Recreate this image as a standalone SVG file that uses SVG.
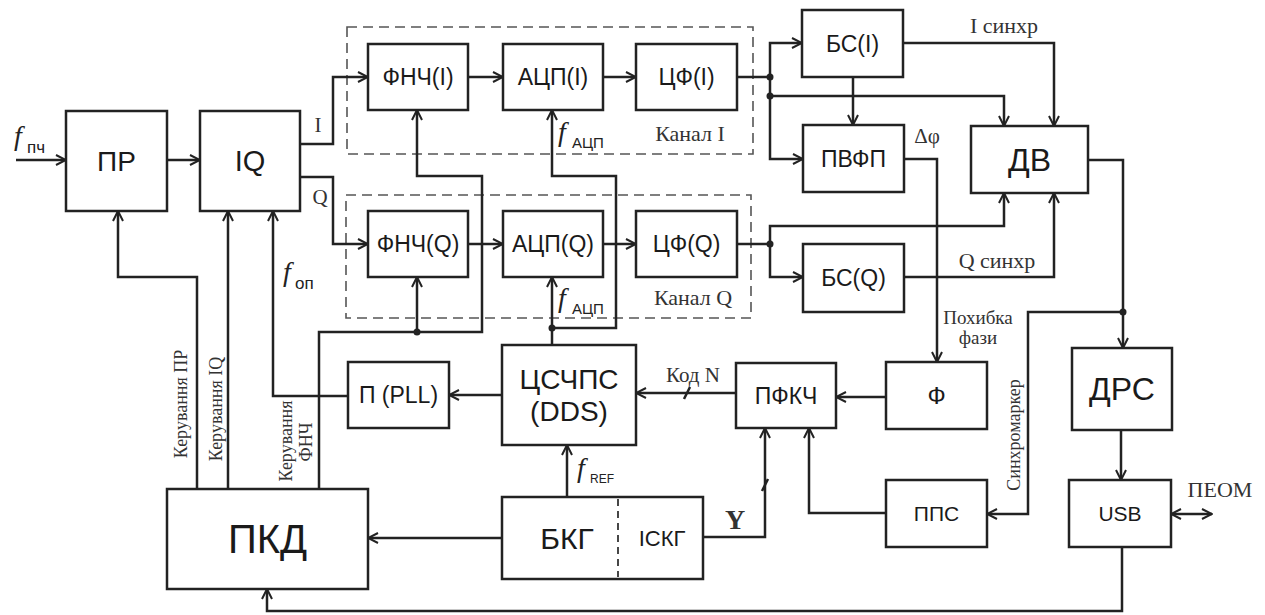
<svg xmlns="http://www.w3.org/2000/svg" width="1265" height="615" viewBox="0 0 1265 615">
<style>
.b{fill:#fff;stroke:#222;stroke-width:2.5}
.c{fill:none;stroke:#222;stroke-width:2.5}
.a{marker-end:url(#ar)}
.d{fill:none;stroke:#555;stroke-width:1.6;stroke-dasharray:10 6}
.t{font-family:"Liberation Sans",Arial,sans-serif;fill:#1a1a1a;text-anchor:middle}
.s{font-family:"Liberation Serif","Times New Roman",serif;fill:#333}
.m{text-anchor:middle}
.f{font-family:"Liberation Serif","Times New Roman",serif;font-style:italic;fill:#222}
.u{font-family:"Liberation Sans",Arial,sans-serif;fill:#222}
.j{fill:#222}
</style>
<defs>
<marker id="ar" viewBox="0 0 12 12" refX="11" refY="6" markerWidth="12" markerHeight="12" markerUnits="userSpaceOnUse" orient="auto-start-reverse">
<path d="M1,1 L11,6 L1,11" fill="none" stroke="#222" stroke-width="2"/>
</marker>
</defs>
<rect width="1265" height="615" fill="#fff"/>

<g id="channels">
<rect class="d" x="347" y="27" width="406" height="127"/>
<rect class="d" x="346" y="195" width="405" height="123"/>
<text class="s m" x="690" y="141" font-size="22">Канал I</text>
<text class="s m" x="693" y="305" font-size="22">Канал Q</text>
</g>

<g id="connectors">
<path class="c a" d="M16,160 H66"/>
<path class="c a" d="M167,160 H200"/>
<path class="c a" d="M300,144 H333 V77 H368"/>
<path class="c a" d="M300,177 H333 V244 H368"/>
<path class="c a" d="M468,77 H503"/>
<path class="c a" d="M603,77 H636"/>
<path class="c a" d="M468,244 H503"/>
<path class="c a" d="M603,244 H636"/>
<path class="c" d="M737,77 H770"/>
<path class="c a" d="M770,77 V43 H802"/>
<path class="c a" d="M770,77 V159 H803"/>
<path class="c a" d="M770,96 H1004 V126"/>
<path class="c a" d="M853,77 V125"/>
<path class="c a" d="M903,43 H1054 V126"/>
<path class="c" d="M737,244 H770"/>
<path class="c a" d="M770,244 V226 H1004 V193"/>
<path class="c a" d="M770,244 V277 H803"/>
<path class="c a" d="M904,277 H1054 V193"/>
<path class="c a" d="M904,159 H937 V362"/>
<path class="c a" d="M1088,160 H1123 V348"/>
<path class="c a" d="M1123,312 H1028 V514 H987"/>
<path class="c a" d="M1121,430 V480"/>
<path class="c a" d="M1171,514 H1212" marker-start="url(#ar)"/>
<path class="c a" d="M1122,547 V611 H267 V589"/>
<path class="c a" d="M886,397 H836"/>
<path class="c a" d="M736,393 H636"/>
<path class="c" d="M684,399 L690,387" stroke-width="2"/>
<path class="c a" d="M886,513 H809 V428"/>
<path class="c a" d="M703,537 H765 V428"/>
<path class="c" d="M762,491 L768,479" stroke-width="2"/>
<path class="c a" d="M567,497 V445"/>
<path class="c a" d="M502,538 H368"/>
<path class="c a" d="M502,395 H449"/>
<path class="c a" d="M348,396 H273 V211"/>
<path class="c a" d="M228,489 V211"/>
<path class="c a" d="M197,489 V277 H118 V211"/>
<path class="c a" d="M319,489 V332 H482 V176 H417 V110"/>
<path class="c a" d="M417,332 V277"/>
<path class="c" d="M552,345 V328"/>
<path class="c a" d="M552,328 V277"/>
<path class="c a" d="M552,328 H616 V176 H552 V110"/>
<circle class="j" cx="770" cy="77" r="3.5"/>
<circle class="j" cx="770" cy="96" r="3.5"/>
<circle class="j" cx="770" cy="244" r="3.5"/>
<circle class="j" cx="417" cy="332" r="3.5"/>
<circle class="j" cx="552" cy="328" r="3.5"/>
<circle class="j" cx="1123" cy="312" r="3.5"/>
</g>

<g id="labels">
<text class="f" x="14" y="145" font-size="28">f</text>
<text class="u" x="27" y="153" font-size="17">пч</text>
<text class="f" x="283" y="281" font-size="28">f</text>
<text class="u" x="295" y="289" font-size="17">оп</text>
<text class="f" x="558" y="141" font-size="28">f</text>
<text class="u" x="572" y="148" font-size="15">АЦП</text>
<text class="f" x="558" y="307" font-size="28">f</text>
<text class="u" x="572" y="314" font-size="15">АЦП</text>
<text class="f" x="577" y="477" font-size="28">f</text>
<text class="u" x="590" y="483" font-size="12">REF</text>
<text class="s m" x="318" y="132" font-size="21">I</text>
<text class="s m" x="320" y="204" font-size="21">Q</text>
<text class="s m" x="1004" y="33" font-size="22">I синхр</text>
<text class="s m" x="997" y="268" font-size="22">Q синхр</text>
<text class="s m" x="927" y="143" font-size="21">Δφ</text>
<text class="s m" x="978" y="324" font-size="19">Похибка</text>
<text class="s m" x="978" y="344" font-size="19">фази</text>
<text class="s m" font-size="18" transform="translate(1020,435) rotate(-90)">Синхромаркер</text>
<text class="s m" font-size="18" transform="translate(187,404) rotate(-90)">Керування ПР</text>
<text class="s m" font-size="18" transform="translate(222,409) rotate(-90)">Керування IQ</text>
<text class="s m" font-size="18" transform="translate(292,441) rotate(-90)">Керування</text>
<text class="s m" font-size="18" transform="translate(312,442) rotate(-90)">ФНЧ</text>
<text class="s m" x="693" y="382" font-size="21">Код N</text>
<text class="s m" x="735" y="529" font-size="28" font-weight="bold">Y</text>
<text class="s m" x="1220" y="497" font-size="22">ПЕОМ</text>
</g>

<g id="PR"><rect class="b" x="66" y="111" width="101" height="100"/><text class="t" x="116.5" y="171" font-size="28">ПР</text></g>
<g id="IQ"><rect class="b" x="200" y="111" width="100" height="100"/><text class="t" x="250" y="171" font-size="29">IQ</text></g>
<g id="FNCH_I"><rect class="b" x="368" y="44" width="100" height="66"/><text class="t" x="418" y="85" font-size="23">ФНЧ(I)</text></g>
<g id="ADC_I"><rect class="b" x="503" y="44" width="100" height="66"/><text class="t" x="553" y="85" font-size="23">АЦП(I)</text></g>
<g id="CF_I"><rect class="b" x="636" y="44" width="101" height="66"/><text class="t" x="686.5" y="85" font-size="23">ЦФ(I)</text></g>
<g id="FNCH_Q"><rect class="b" x="368" y="211" width="100" height="66"/><text class="t" x="418" y="252" font-size="23">ФНЧ(Q)</text></g>
<g id="ADC_Q"><rect class="b" x="503" y="211" width="100" height="66"/><text class="t" x="553" y="252" font-size="23">АЦП(Q)</text></g>
<g id="CF_Q"><rect class="b" x="636" y="211" width="101" height="66"/><text class="t" x="686.5" y="252" font-size="23">ЦФ(Q)</text></g>
<g id="BS_I"><rect class="b" x="802" y="10" width="101" height="67"/><text class="t" x="852.5" y="52" font-size="23">БС(I)</text></g>
<g id="PVFP"><rect class="b" x="803" y="125" width="101" height="67"/><text class="t" x="853.5" y="167" font-size="23">ПВФП</text></g>
<g id="DV"><rect class="b" x="971" y="126" width="117" height="67"/><text class="t" x="1029.5" y="171" font-size="32">ДВ</text></g>
<g id="BS_Q"><rect class="b" x="803" y="244" width="101" height="68"/><text class="t" x="853.5" y="286" font-size="23">БС(Q)</text></g>
<g id="DDS"><rect class="b" x="502" y="345" width="134" height="100"/><text class="t" x="569" y="389" font-size="28">ЦСЧПС</text><text class="t" x="569" y="421" font-size="28">(DDS)</text></g>
<g id="PLL"><rect class="b" x="348" y="362" width="101" height="66"/><text class="t" x="398.5" y="403" font-size="23">П (PLL)</text></g>
<g id="PFKCH"><rect class="b" x="736" y="363" width="100" height="65"/><text class="t" x="786" y="404" font-size="23">ПФКЧ</text></g>
<g id="F"><rect class="b" x="886" y="362" width="101" height="67"/><text class="t" x="936.5" y="404" font-size="24">Ф</text></g>
<g id="DRS"><rect class="b" x="1072" y="348" width="100" height="82"/><text class="t" x="1122" y="400" font-size="32">ДРС</text></g>
<g id="PKD"><rect class="b" x="167" y="489" width="201" height="100"/><text class="t" x="267.5" y="553" font-size="40">ПКД</text></g>
<g id="BKG"><rect class="b" x="502" y="497" width="201" height="82"/><line x1="618" y1="499" x2="618" y2="577" stroke="#333" stroke-width="1.8" stroke-dasharray="7 5"/><text class="t" x="567" y="549" font-size="30">БКГ</text><text class="t" x="662" y="546" font-size="22">ІСКГ</text></g>
<g id="PPS"><rect class="b" x="886" y="480" width="101" height="67"/><text class="t" x="936.5" y="521" font-size="21">ППС</text></g>
<g id="USB"><rect class="b" x="1069" y="480" width="102" height="67"/><text class="t" x="1120" y="521" font-size="21">USB</text></g>
</svg>
